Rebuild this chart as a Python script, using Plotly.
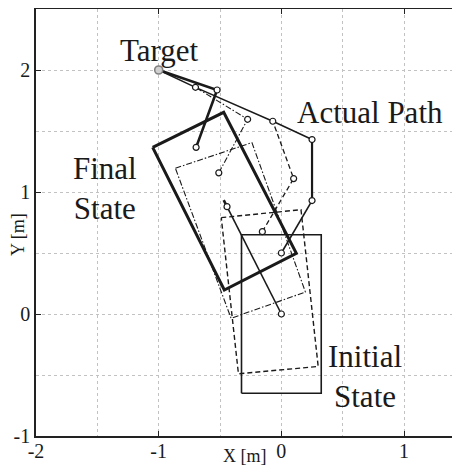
import plotly.graph_objects as go

# ---- data (metres) ----
init_rect_x = [-0.325, 0.325, 0.325, -0.325, -0.325]
init_rect_y = [-0.65, -0.65, 0.65, 0.65, -0.65]
dash_rect_x = [-0.49, 0.16, 0.30, -0.35, -0.49]
dash_rect_y = [0.79, 0.855, -0.43, -0.49, 0.79]
dd_rect_x = [-0.864, -0.24, 0.196, -0.41, -0.864]
dd_rect_y = [1.195, 1.405, 0.18, -0.035, 1.195]
final_rect_x = [-1.049, -0.47, 0.122, -0.465, -1.049]
final_rect_y = [1.366, 1.653, 0.497, 0.197, 1.366]

init_arm_x = [0.0, 0.25, 0.25]
init_arm_y = [0.5, 0.93, 1.43]
dash_arm_x = [-0.155, 0.10, -0.07]
dash_arm_y = [0.675, 1.11, 1.58]
dd_arm_x = [-0.51, -0.275, -0.70]
dd_arm_y = [1.157, 1.596, 1.858]
final_arm_x = [-0.695, -0.524, -1.0]
final_arm_y = [1.366, 1.836, 2.0]

path_x = [0.25, -0.07, -0.70, -1.0]
path_y = [1.43, 1.58, 1.858, 2.0]

center_x = [0.0, -0.443]
center_y = [0.0, 0.88]
center_tip_x = [-0.443, -0.47]
center_tip_y = [0.88, 0.934]

target_x = [-1.0]
target_y = [2.0]

x_ticks = [-2, -1, 0, 1]
y_ticks = [-1, 0, 1, 2]

INK = "#1a1a1a"
SERIF = "Liberation Serif, Times New Roman, serif"

fig = go.Figure()

def line(x, y, width=1.4, dash="solid"):
    fig.add_trace(go.Scatter(x=x, y=y, mode="lines", hoverinfo="skip",
                             line=dict(color=INK, width=width, dash=dash),
                             showlegend=False))

def dots(x, y, size=6):
    fig.add_trace(go.Scatter(x=x, y=y, mode="markers", hoverinfo="skip",
                             marker=dict(size=size, color="white",
                                         line=dict(color=INK, width=1.2)),
                             showlegend=False))

# rectangles
line(init_rect_x, init_rect_y, 1.6)
line(dash_rect_x, dash_rect_y, 1.4, "5px,3px")
line(dd_rect_x, dd_rect_y, 1.1, "6px,2px,1.5px,2px")
line(final_rect_x, final_rect_y, 3.0)

# centre trajectory
line(center_x, center_y, 1.6)
line(center_tip_x, center_tip_y, 2.6)

# arms
line(init_arm_x[:2], init_arm_y[:2], 1.6)
line(init_arm_x[1:], init_arm_y[1:], 2.2)
line(dash_arm_x, dash_arm_y, 1.3, "5px,3px")
line(dd_arm_x, dd_arm_y, 1.1, "6px,2px,1.5px,2px")
line(final_arm_x, final_arm_y, 2.6)

# actual path
line(path_x, path_y, 1.5)

# markers
dots(center_x, center_y)
dots(init_arm_x, init_arm_y)
dots(dash_arm_x, dash_arm_y)
dots(dd_arm_x, dd_arm_y)
dots(final_arm_x[:2], final_arm_y[:2])
fig.add_trace(go.Scatter(x=target_x, y=target_y, mode="markers", hoverinfo="skip",
                         marker=dict(size=8, color="#d0d0d0",
                                     line=dict(color="#808080", width=1.6)),
                         showlegend=False))

txt = dict(family=SERIF, size=31, color=INK)
ann = [
    dict(x=-0.994, y=2.156, text="Target"),
    dict(x=0.725, y=1.65, text="Actual Path"),
    dict(x=-1.44, y=1.025, text="Final<br>State"),
    dict(x=0.68, y=-0.51, text="Initial<br>State"),
]
annotations = [dict(xref="x", yref="y", showarrow=False, font=txt, **a) for a in ann]
# page body has an 8px margin: figure placed at (8, 8)
PL, PT, PW, PH = 28, 1, 424, 427
annotations.append(dict(xref="paper", yref="paper", x=(245 - 36) / PW, y=-(456 - 436) / PH,
                        xanchor="center", yanchor="middle",
                        text="X [m]", showarrow=False,
                        font=dict(family=SERIF, size=18, color=INK)))
annotations.append(dict(xref="paper", yref="paper", x=-(36 - 18) / PW, y=(436 - 235) / PH,
                        xanchor="center", yanchor="middle",
                        text="Y [m]", showarrow=False, textangle=-90,
                        font=dict(family=SERIF, size=18, color=INK)))

axis_common = dict(
    showgrid=True, gridcolor="#c2c2c2", griddash="3px,3px", gridwidth=1,
    showline=True, linecolor="#222", linewidth=1.5,
    ticks="inside", ticklen=5, tickcolor="#222", tickwidth=1,
    tickfont=dict(family=SERIF, size=20, color=INK),
    zeroline=False, automargin=False,
    minor=dict(dtick=0.5, showgrid=True, gridcolor="#c2c2c2", griddash="3px,3px",
               gridwidth=1, ticks=""),
)

fig.update_layout(
    width=452, height=458,
    margin=dict(l=PL, r=0, t=PT, b=30),
    paper_bgcolor="white", plot_bgcolor="white",
    annotations=annotations,
    xaxis=dict(range=[-2, 1.456], tickvals=x_ticks, ticktext=[str(v) for v in x_ticks],
               mirror="ticks", ticklabelstandoff=-4, **axis_common),
    yaxis=dict(range=[-1, 2.5], tickvals=y_ticks, ticktext=[str(v) for v in y_ticks],
               mirror=False, **axis_common),
)

fig.write_html("out.html")
